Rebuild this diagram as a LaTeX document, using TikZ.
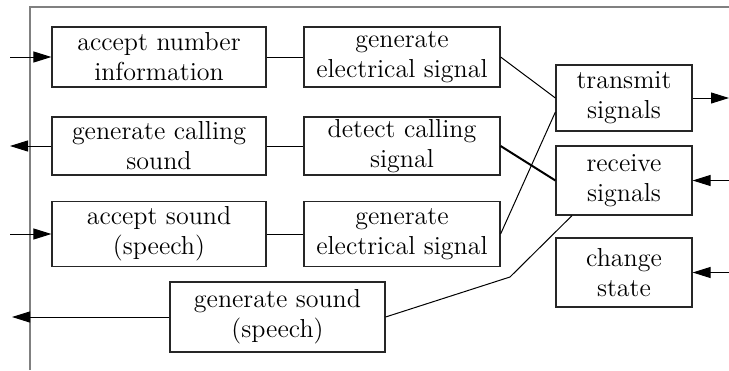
\documentclass[tikz,border=0pt]{standalone}
\usetikzlibrary{arrows.meta}
\begin{document}
\begin{tikzpicture}[x=0.5pt,y=-0.5pt,
  box/.style={draw=black!85, line width=0.6pt, inner sep=0pt, align=center,
    font=\fontsize{13}{15}\selectfont},
  link/.style={draw=black, line width=0.5pt},
  arr/.style={draw=black, line width=0.5pt, -{Triangle[length=9pt,width=5.5pt]}},
  frame/.style={draw=black!50, line width=1pt}]
\useasboundingbox (0,0) rectangle (729,370);
\draw[frame] (30,370) -- (30,7) -- (729,7);
% boxes
\node[box, minimum width=107pt, minimum height=30pt] (b1) at (159,57) {accept number\\information};
\node[box, minimum width=98pt, minimum height=30pt] (b2) at (402,57) {generate\\electrical signal};
\node[box, minimum width=107pt, minimum height=29pt] (b3) at (159,146) {generate calling\\sound};
\node[box, minimum width=98pt, minimum height=29pt] (b4) at (402,146) {detect calling\\signal};
\node[box, minimum width=107pt, minimum height=32.5pt] (b5) at (159,234) {accept sound\\(speech)};
\node[box, minimum width=98pt, minimum height=32.5pt] (b6) at (402,234) {generate\\electrical signal};
\node[box, minimum width=107.5pt, minimum height=35pt] (b7) at (277.5,317) {generate sound\\(speech)};
\node[box, minimum width=68pt, minimum height=33pt] (tr) at (624,98) {transmit\\signals};
\node[box, minimum width=68pt, minimum height=34.5pt] (rc) at (624,180.5) {receive\\signals};
\node[box, minimum width=68pt, minimum height=34.5pt] (cs) at (624,272.5) {change\\state};
% free ends
\coordinate (in1) at (10,57);
\coordinate (out3) at (10,146);
\coordinate (in5) at (10,234);
\coordinate (out7) at (12,317);
\coordinate (outT) at (729,98);
\coordinate (inR) at (729,180.5);
\coordinate (inC) at (729,272.5);
\coordinate (bend) at (510,277);
% connectors
\draw[link] (b1.east) -- (b2.west);
\draw[link] (b3.east) -- (b4.west);
\draw[link] (b5.east) -- (b6.west);
\draw[link] (b2.east) -- (tr.west);
\draw[link, line width=1pt] (b4.east) -- (rc.west);
\draw[link] (b6.east) -- ([yshift=-7pt]tr.west);
\draw[link] (b7.east) -- (bend) -- ([xshift=-26pt]rc.south);
% arrows
\draw[arr] (in1) -- (b1.west);
\draw[arr] (b3.west) -- (out3);
\draw[arr] (in5) -- (b5.west);
\draw[arr] (b7.west) -- (out7);
\draw[arr] (tr.east) -- (outT);
\draw[arr] (inR) -- (rc.east);
\draw[arr] (inC) -- (cs.east);
\end{tikzpicture}
\end{document}
